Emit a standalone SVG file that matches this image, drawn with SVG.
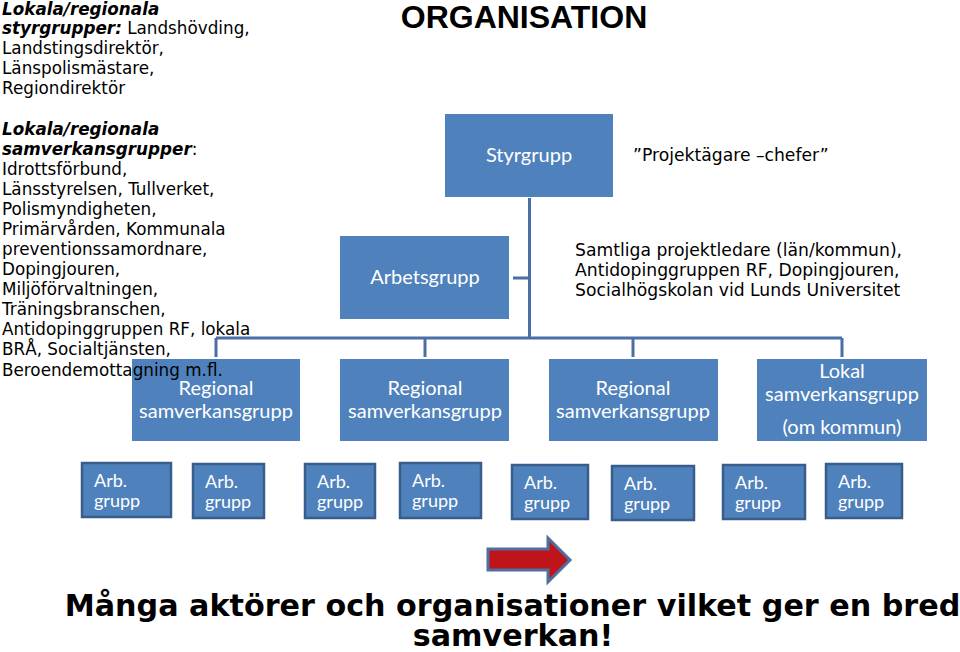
<svg xmlns="http://www.w3.org/2000/svg" width="960" height="652" viewBox="0 0 960 652">
<style>
.box{fill:#4F81BD}
.arb{fill:#4F81BD;stroke:#385D8A;stroke-width:2.5}
.bt{font-family:Lato,"Open Sans","Liberation Sans",sans-serif;font-size:20px;fill:#fff;text-anchor:middle}
.at{font-family:Lato,"Open Sans","Liberation Sans",sans-serif;font-size:18px;fill:#fff}
.v{font-family:"DejaVu Sans",Verdana,sans-serif;font-size:16.8px;fill:#000}
.r{font-size:17.2px}
.bi{font-weight:bold;font-style:italic}
.conn{stroke:#4A6FA5;stroke-width:3;fill:none}
</style>
<rect width="960" height="652" fill="#fff"/>
<text x="524" y="28" font-family="'Liberation Sans',Arial,sans-serif" font-size="32" font-weight="bold" text-anchor="middle">ORGANISATION</text>

<g id="connectors">
<path class="conn" d="M529.5 198V338M513 278H529.5M216 338H842M216 338V357M425 338V357M633 338V357M842 338V357"/>
</g>

<g id="styrgrupp"><rect class="box" x="445" y="114" width="168" height="83"/><text class="bt" x="529" y="162">Styrgrupp</text></g>
<g id="arbetsgrupp"><rect class="box" x="340" y="236" width="169" height="83"/><text class="bt" x="425" y="284">Arbetsgrupp</text></g>
<g id="regional1"><rect class="box" x="132" y="359" width="168" height="82"/><text class="bt" x="216" y="395">Regional</text><text class="bt" x="216" y="418">samverkansgrupp</text></g>
<g id="regional2"><rect class="box" x="340" y="359" width="169" height="82"/><text class="bt" x="425" y="395">Regional</text><text class="bt" x="425" y="418">samverkansgrupp</text></g>
<g id="regional3"><rect class="box" x="549" y="359" width="169" height="82"/><text class="bt" x="633" y="395">Regional</text><text class="bt" x="633" y="418">samverkansgrupp</text></g>
<g id="lokal"><rect class="box" x="757" y="359" width="170" height="82"/><text class="bt" x="842" y="378">Lokal</text><text class="bt" x="842" y="401">samverkansgrupp</text><text class="bt" x="842" y="434">(om kommun)</text></g>

<g id="arb1"><rect class="arb" x="82" y="463" width="89" height="54"/><text class="at" x="94" y="487">Arb.</text><text class="at" x="94" y="507">grupp</text></g>
<g id="arb2"><rect class="arb" x="193" y="464" width="71" height="54"/><text class="at" x="205" y="488">Arb.</text><text class="at" x="205" y="508">grupp</text></g>
<g id="arb3"><rect class="arb" x="305" y="464" width="70" height="54"/><text class="at" x="317" y="488">Arb.</text><text class="at" x="317" y="508">grupp</text></g>
<g id="arb4"><rect class="arb" x="400" y="463" width="81" height="55"/><text class="at" x="412" y="487">Arb.</text><text class="at" x="412" y="507">grupp</text></g>
<g id="arb5"><rect class="arb" x="512" y="465" width="76" height="54"/><text class="at" x="524" y="489">Arb.</text><text class="at" x="524" y="509">grupp</text></g>
<g id="arb6"><rect class="arb" x="612" y="466" width="82" height="54"/><text class="at" x="624" y="490">Arb.</text><text class="at" x="624" y="510">grupp</text></g>
<g id="arb7"><rect class="arb" x="723" y="465" width="82" height="54"/><text class="at" x="735" y="489">Arb.</text><text class="at" x="735" y="509">grupp</text></g>
<g id="arb8"><rect class="arb" x="826" y="464" width="76" height="54"/><text class="at" x="838" y="488">Arb.</text><text class="at" x="838" y="508">grupp</text></g>

<g id="left-text">
<text class="v" x="2" y="15"><tspan class="bi">Lokala/regionala</tspan></text>
<text class="v" x="2" y="34"><tspan class="bi">styrgrupper:</tspan> Landshövding,</text>
<text class="v" x="2" y="54">Landstingsdirektör,</text>
<text class="v" x="2" y="74">Länspolismästare,</text>
<text class="v" x="2" y="94">Regiondirektör</text>
<text class="v" x="2" y="135"><tspan class="bi">Lokala/regionala</tspan></text>
<text class="v" x="2" y="155"><tspan class="bi">samverkansgrupper</tspan>:</text>
<text class="v" x="2" y="175">Idrottsförbund,</text>
<text class="v" x="2" y="195">Länsstyrelsen, Tullverket,</text>
<text class="v" x="2" y="215">Polismyndigheten,</text>
<text class="v" x="2" y="235">Primärvården, Kommunala</text>
<text class="v" x="2" y="255">preventionssamordnare,</text>
<text class="v" x="2" y="275">Dopingjouren,</text>
<text class="v" x="2" y="295">Miljöförvaltningen,</text>
<text class="v" x="2" y="315">Träningsbranschen,</text>
<text class="v" x="2" y="335">Antidopinggruppen RF, lokala</text>
<text class="v" x="2" y="355">BRÅ, Socialtjänsten,</text>
<text class="v" x="2" y="376">Beroendemottagning m.fl.</text>
</g>

<g id="right-text">
<text class="v r" x="633" y="161">”Projektägare –chefer”</text>
<text class="v r" x="575" y="256">Samtliga projektledare (län/kommun),</text>
<text class="v r" x="575" y="276">Antidopinggruppen RF, Dopingjouren,</text>
<text class="v r" x="575" y="296">Socialhögskolan vid Lunds Universitet</text>
</g>

<g id="arrow"><path d="M488 549H548V538L570 560L548 582V570H488Z" fill="#C0141B" stroke="#4F6FA0" stroke-width="3" stroke-linejoin="miter"/></g>

<g id="bottom-text" font-family="'DejaVu Sans',Verdana,sans-serif" font-weight="bold" font-size="30.2" text-anchor="middle">
<text x="512.5" y="616">Många aktörer och organisationer vilket ger en bred</text>
<text x="513" y="646">samverkan!</text>
</g>
</svg>
